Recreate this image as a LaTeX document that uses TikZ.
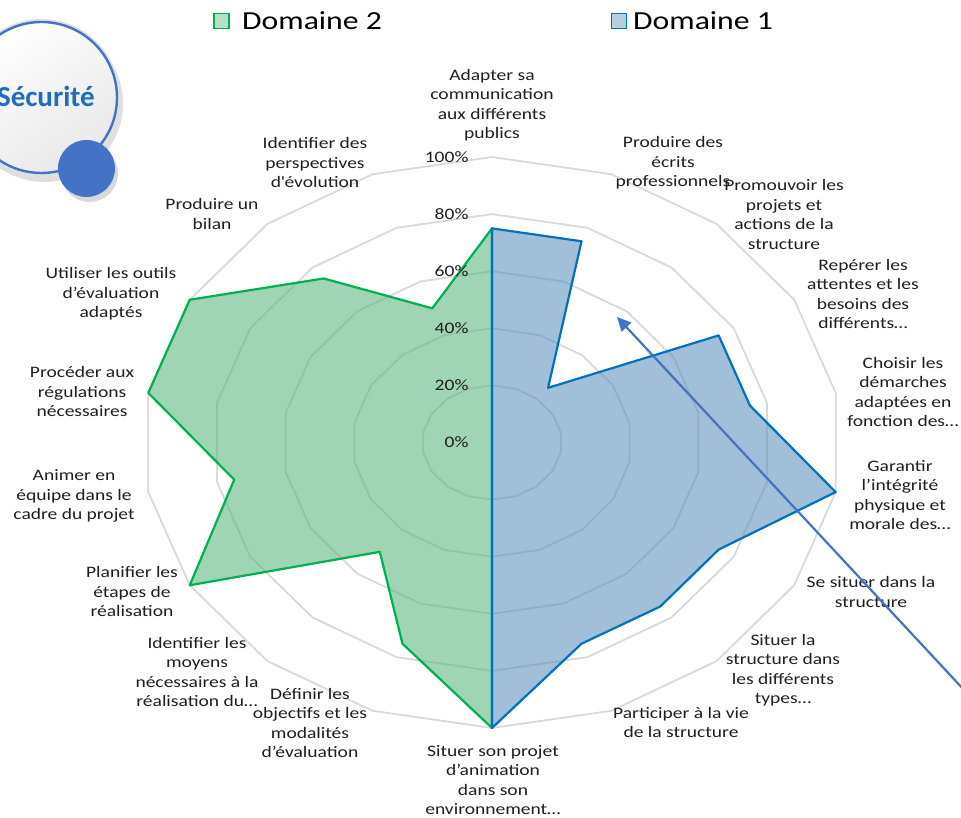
\documentclass[tikz,border=0pt]{standalone}
\usepackage{fontspec}
\setmainfont{Carlito}[FakeStretch=1.22]
\newfontfamily\plainfont{Carlito}
\usetikzlibrary{arrows.meta,shadows}
\definecolor{axisgrey}{HTML}{D9D9D9}
\definecolor{labelgrey}{HTML}{1F1F1F}
\definecolor{domtwoline}{HTML}{00B050}
\definecolor{domtwofill}{HTML}{5FB883}
\definecolor{domoneline}{HTML}{0070C0}
\definecolor{domonefill}{HTML}{6294BE}
\definecolor{pointer}{HTML}{4472C4}
\definecolor{sectext}{HTML}{1F6CC4}

\begin{document}
\begin{tikzpicture}[x=1pt,y=1pt,>={Triangle[length=14pt,width=13pt]},
	skill/.style={align=center,text=labelgrey,font=\fontsize{16}{19.5}\selectfont},
	pct/.style={anchor=east,text=labelgrey,font=\fontsize{16}{19.5}\selectfont},
	legend/.style={anchor=west,inner sep=0,text=black,font=\fontsize{26}{31}\selectfont},
	ring/.style={draw=axisgrey,line width=1.8pt,line join=round},
	series/.style={line width=2.2pt,line join=round,fill opacity=.6}]
	\useasboundingbox (-492,-375.5) rectangle (469,442.5);
	\clip (-492,-375.5) rectangle (469,442.5);
	
	% radar grid and the two domains
	\begin{scope}[x=349pt,y=285.5pt]
	\foreach \r in {.2,.4,.6,.8,1}
		\draw[ring] plot[samples=19,domain=90:450] (\x:\r) -- cycle;
	\filldraw[series,draw=domtwoline,fill=domtwofill] (0,0) -- (-90:1) -- (-110:.75)
		-- (-130:.5) -- (-150:1) -- (-170:.75) -- (170:1) -- (150:1) -- (130:.75)
		-- (110:.5) -- (90:.75) -- cycle;
	\filldraw[series,draw=domoneline,fill=domonefill] (0,0) -- (90:.75) -- (70:.75)
		-- (50:.25) -- (30:.75) -- (10:.75) -- (-10:1) -- (-30:.75) -- (-50:.75)
		-- (-70:.75) -- (-90:1) -- cycle;
	\end{scope}
	
	\node[pct] (pzero) at (-20,0) {0\%};
	\node[pct] (ptwenty) at (-20,57.1) {20\%};
	\node[pct] (pforty) at (-20,114.2) {40\%};
	\node[pct] (psixty) at (-20,171.3) {60\%};
	\node[pct] (peighty) at (-20,228.4) {80\%};
	\node[pct] (phundred) at (-20,285.5) {100\%};
	
	\node[skill] (adapter) at (0,337.5) {Adapter sa\\communication\\aux différents\\publics};
	\node[skill] (ecrits) at (181,279.5) {Produire des\\écrits\\professionnels};
	\node[skill] (promouvoir) at (292,228) {Promouvoir les\\projets et\\actions de la\\structure};
	\node[skill] (attentes) at (371,148.5) {Repérer les\\attentes et les\\besoins des\\différents…};
	\node[skill] (demarches) at (411,50.5) {Choisir les\\démarches\\adaptées en\\fonction des…};
	\node[skill] (integrite) at (408,-52.5) {Garantir\\l’intégrité\\physique et\\morale des…};
	\node[skill] (sesituer) at (379,-149.5) {Se situer dans la\\structure};
	\node[skill] (types) at (291,-227.5) {Situer la\\structure dans\\les différents\\types…};
	\node[skill] (vie) at (189,-280) {Participer à la vie\\de la structure};
	\node[skill] (environnement) at (1,-337.5) {Situer son projet\\d’animation\\dans son\\environnement…};
	\node[skill] (objectifs) at (-182,-280.5) {Définir les\\objectifs et les\\modalités\\d’évaluation};
	\node[skill] (moyens) at (-295,-229.5) {Identifier les\\moyens\\nécessaires à la\\réalisation du…};
	\node[skill] (etapes) at (-360,-149.5) {Planifier les\\étapes de\\réalisation};
	\node[skill] (equipe) at (-418,-53.5) {Animer en\\équipe dans le\\cadre du projet};
	\node[skill] (regulations) at (-410,50.5) {Procéder aux\\régulations\\nécessaires};
	\node[skill] (outils) at (-381,148.5) {Utiliser les outils\\d’évaluation\\adaptés};
	\node[skill] (bilan) at (-280,228.5) {Produire un\\bilan};
	\node[skill] (perspectives) at (-177,279.5) {Identifier des\\perspectives\\d\textquotesingle évolution};
	
	% legend
	\node[draw=domtwoline,fill=domtwofill!45,line width=1.6pt,minimum size=15pt,inner sep=0] (keytwo) at (-270.5,421.5) {};
	\node[legend] (keytwotext) at (-250,421.5) {Domaine 2};
	\node[draw=domoneline,fill=domonefill!45,line width=1.6pt,minimum size=15pt,inner sep=0] (keyone) at (127,421.5) {};
	\node[legend] (keyonetext) at (141,421.5) {Domaine 1};
	
	% badge
	\node[circle,fill=black!12,minimum size=157pt,inner sep=0,
		drop shadow={shadow xshift=3pt,shadow yshift=-6pt,opacity=.25}] (secrim) at (-450.5,345) {};
	\node[circle,draw=pointer,line width=2.4pt,minimum size=151pt,inner sep=0,
		top color=white,bottom color=black!9,shading angle=35] (secdisc) at (-450.5,345) {};
	\node[anchor=base east,inner sep=0,text=sectext,font=\plainfont\bfseries\fontsize{29}{34}\selectfont] (sectitle) at (-397,335.5) {Sécurité};
	\node[circle,fill=pointer,minimum size=57pt,inner sep=0,
		drop shadow={shadow xshift=3pt,shadow yshift=-5pt,opacity=.3}] (secdot) at (-405.5,274) {};
	
	\coordinate (pointertail) at (520,-299);
	\coordinate (pointertip) at (125,125.5);
	\draw[->,pointer,line width=2.2pt] (pointertail) -- (pointertip);
\end{tikzpicture}
\end{document}
